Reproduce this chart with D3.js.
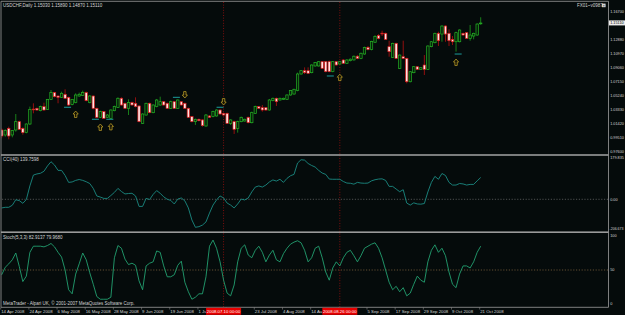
<!DOCTYPE html>
<html>
<head>
<meta charset="utf-8">
<script src="https://cdn.jsdelivr.net/npm/d3@7"></script>
<style>
  body { margin: 0; background: #050b0b; }
  svg { display: block; font-family: "Liberation Sans", Arial, sans-serif; }
</style>
</head>
<body>
<div id="chart"></div>
<script>
// USDCHF daily, 14 Apr 2008 - 21 Oct 2008
const open = [
  1.0059,0.9991,1.0081,0.9991,1.0059,1.0172,1.0081,1.0023,1.0140,1.0343,
  1.0353,1.0321,1.0376,1.0339,1.0475,1.0566,1.0520,1.0502,1.0543,1.0502,
  1.0407,1.0430,1.0520,1.0529,1.0566,1.0430,1.0520,1.0353,1.0231,1.0308,
  1.0231,1.0217,1.0321,1.0366,1.0489,1.0421,1.0353,1.0430,1.0421,1.0385,
  1.0149,1.0262,1.0421,1.0294,1.0376,1.0398,1.0443,1.0421,1.0353,1.0443,
  1.0353,1.0443,1.0421,1.0353,1.0240,1.0172,1.0204,1.0195,1.0113,1.0249,
  1.0240,1.0249,1.0330,1.0285,1.0285,1.0149,1.0172,1.0081,1.0172,1.0181,
  1.0231,1.0158,1.0285,1.0376,1.0362,1.0362,1.0330,1.0457,1.0489,1.0466,
  1.0475,1.0475,1.0534,1.0547,1.0593,1.0819,1.0864,1.0864,1.0837,1.0928,
  1.0928,1.0986,1.0986,1.0986,1.0851,1.0986,1.0955,1.1009,1.0964,1.1000,
  1.1010,1.1060,1.1030,1.1090,1.1180,1.1150,1.1250,1.1340,1.1373,1.1371,
  1.1190,1.1045,1.1235,1.0895,1.1054,1.1031,1.0714,1.0837,1.0918,1.0882,
  1.0941,1.0882,1.1190,1.1244,1.1371,1.1361,1.1470,1.1371,1.1289,1.1257,
  1.1257,1.1371,1.1380,1.1303,1.1334,1.1348,1.1503
]
const high = [
  1.0081,1.0068,1.0104,1.0059,1.0276,1.0185,1.0095,1.0149,1.0376,1.0421,
  1.0362,1.0389,1.0430,1.0480,1.0602,1.0575,1.0529,1.0579,1.0611,1.0511,
  1.0480,1.0557,1.0566,1.0593,1.0579,1.0534,1.0529,1.0362,1.0321,1.0312,
  1.0276,1.0339,1.0389,1.0502,1.0502,1.0430,1.0475,1.0443,1.0502,1.0394,
  1.0285,1.0430,1.0430,1.0407,1.0480,1.0511,1.0452,1.0430,1.0457,1.0452,
  1.0475,1.0452,1.0430,1.0362,1.0249,1.0213,1.0213,1.0204,1.0276,1.0262,
  1.0321,1.0339,1.0339,1.0294,1.0294,1.0204,1.0185,1.0185,1.0240,1.0213,
  1.0240,1.0308,1.0389,1.0385,1.0398,1.0371,1.0480,1.0498,1.0498,1.0498,
  1.0498,1.0543,1.0602,1.0620,1.0837,1.0873,1.0909,1.0909,1.0950,1.0982,
  1.0995,1.0995,1.0995,1.1000,1.0995,1.0995,1.0995,1.1020,1.1020,1.1030,
  1.1070,1.1075,1.1110,1.1190,1.1200,1.1270,1.1345,1.1360,1.1407,1.1380,
  1.1271,1.1244,1.1244,1.1085,1.1271,1.1040,1.0859,1.0927,1.0927,1.0913,
  1.1076,1.1208,1.1266,1.1380,1.1393,1.1479,1.1479,1.1425,1.1334,1.1393,
  1.1425,1.1380,1.1389,1.1484,1.1380,1.1506,1.1589
]
const low = [
  0.9946,0.9968,0.9932,0.9959,1.0036,1.0059,0.9995,1.0014,1.0127,1.0285,
  1.0321,1.0312,1.0321,1.0330,1.0466,1.0502,1.0421,1.0493,1.0480,1.0385,
  1.0394,1.0421,1.0511,1.0520,1.0448,1.0421,1.0339,1.0217,1.0222,1.0208,
  1.0222,1.0208,1.0312,1.0357,1.0389,1.0344,1.0262,1.0389,1.0366,1.0163,
  1.0140,1.0253,1.0285,1.0285,1.0366,1.0389,1.0389,1.0344,1.0344,1.0344,
  1.0344,1.0389,1.0344,1.0222,1.0163,1.0127,1.0176,1.0104,1.0104,1.0222,
  1.0231,1.0240,1.0267,1.0253,1.0140,1.0127,1.0005,1.0023,1.0163,1.0172,
  1.0149,1.0149,1.0276,1.0344,1.0308,1.0321,1.0321,1.0448,1.0385,1.0457,
  1.0466,1.0466,1.0525,1.0538,1.0584,1.0810,1.0819,1.0819,1.0828,1.0919,
  1.0919,1.0887,1.0842,1.0842,1.0842,1.0932,1.0946,1.0955,1.0955,1.0990,
  1.1000,1.1020,1.1020,1.1080,1.1140,1.1140,1.1240,1.1290,1.1334,1.1280,
  1.1054,1.1036,1.1022,1.0886,1.1022,1.0692,1.0705,1.0828,1.0873,1.0873,
  1.0805,1.0873,1.1181,1.1235,1.1199,1.1257,1.1257,1.1199,1.1212,1.1122,
  1.1248,1.1339,1.1294,1.1271,1.1289,1.1339,1.1487
]
const close = [
  0.9977,1.0050,0.9977,1.0050,1.0172,1.0068,1.0023,1.0140,1.0339,1.0335,
  1.0330,1.0376,1.0330,1.0475,1.0566,1.0511,1.0502,1.0557,1.0489,1.0398,
  1.0475,1.0534,1.0543,1.0566,1.0457,1.0520,1.0353,1.0231,1.0308,1.0217,
  1.0262,1.0330,1.0376,1.0489,1.0398,1.0353,1.0430,1.0398,1.0376,1.0172,
  1.0276,1.0421,1.0294,1.0398,1.0466,1.0443,1.0398,1.0353,1.0443,1.0353,
  1.0466,1.0398,1.0353,1.0231,1.0172,1.0204,1.0185,1.0118,1.0262,1.0231,
  1.0308,1.0330,1.0276,1.0262,1.0149,1.0195,1.0068,1.0172,1.0231,1.0204,
  1.0158,1.0294,1.0376,1.0353,1.0330,1.0330,1.0466,1.0489,1.0443,1.0489,
  1.0489,1.0534,1.0593,1.0611,1.0819,1.0864,1.0837,1.0828,1.0941,1.0973,
  1.0986,1.0896,1.0851,1.0851,1.0986,1.0941,1.0986,1.0964,1.1009,1.1020,
  1.1060,1.1030,1.1100,1.1180,1.1150,1.1260,1.1330,1.1300,1.1368,1.1289,
  1.1122,1.1235,1.1031,1.1076,1.1031,1.0714,1.0850,1.0918,1.0882,1.0904,
  1.0882,1.1199,1.1257,1.1371,1.1271,1.1470,1.1361,1.1271,1.1257,1.1380,
  1.1416,1.1348,1.1303,1.1348,1.1371,1.1497,1.1511
]

// CCI(40) and Stoch main line, one value per bar
const cci = [
  -39,-36,-36,-27,-2,-6,-18,-1,60,109,
  114,117,126,150,169,154,130,130,107,76,
  78,85,89,85,79,71,49,15,10,4,
  4,17,31,49,35,24,26,27,15,-32,
  -32,4,-1,22,39,27,11,0,-5,-21,
  1,6,-7,-39,-93,-126,-123,-116,-102,-62,
  -26,-3,15,6,-17,-26,-39,-21,1,-3,
  6,33,55,60,55,64,78,87,82,90,
  76,94,106,112,163,178,176,161,152,145,
  130,118,112,91,90,90,90,80,73,72,
  68,76,73,72,73,83,88,91,92,85,
  58,58,46,34,43,-17,-26,-16,-21,-22,
  -19,33,76,103,90,116,107,76,64,64,
  71,69,64,67,67,83,98
]
const stoch = [
  43,54,59,65,75,55,33,41,76,85,
  85,85,84,86,89,84,76,69,50,21,
  15,44,59,75,65,46,29,11,7,7,
  7,10,68,86,82,66,58,60,57,34,
  21,56,60,62,78,76,56,40,40,43,
  57,63,32,18,7,10,15,15,40,85,
  94,82,62,35,16,12,28,62,82,87,
  72,68,79,85,76,62,72,79,65,62,
  74,82,88,91,93,90,79,62,68,82,
  85,68,47,35,53,62,56,68,76,79,
  71,62,71,82,85,88,90,82,68,50,
  32,21,26,18,24,12,16,29,41,35,
  32,62,79,87,76,82,71,47,29,24,
  44,56,56,53,62,76,85
]

// fractal arrows and small level marks
const arrowBars = [21, 28, 31, 52, 63, 96, 129]
const arrowPrices = [1.0316, 1.0140, 1.0147, 1.0493, 1.0398, 1.0816, 1.1022]
const arrowUp = [true, true, true, false, false, true, true]
const markBars = [18.7, 26.6, 30.7, 49.6, 62, 93.3, 129.6]
const markPrices = [1.0367, 1.0204, 1.0204, 1.0502, 1.0367, 1.0792, 1.1090]

const priceTicks = [1.167, 1.1479, 1.1288, 1.1097, 1.0906, 1.0715, 1.0524, 1.0333, 1.0142, 0.9951, 0.9760]
const lastPrice = 1.1511
const cciLevel = 0
const cciMax = 179.835, cciMin = -206.673
const stochTicks = [100, 50, 0]
const vLineDates = ['2008.07.10', '2008.08.26']

const width = 625
const height = 315
const plotRight = 608.5

// trading days (Mon-Fri) from 14 Apr 2008
const dates = []
for (let d = new Date(2008, 3, 14); dates.length < close.length; d = d3.timeDay.offset(d, 1)) {
  if (d.getDay() !== 0 && d.getDay() !== 6) dates.push(d)
}
const fmtLabel = d3.timeFormat('%-d %b %Y')
const fmtKey = d3.timeFormat('%Y.%m.%d')

const svg = d3.select('#chart')
  .append('svg')
  .attr('width', width)
  .attr('height', height)

svg.append('rect').attr('width', width).attr('height', height).attr('fill', '#050b0b')

const x = d3.scaleLinear().domain([0, 136]).range([1.7, 480.7])
const yP = d3.scaleLinear().domain([0.976, 1.167]).range([152, 11.3])
const yC = d3.scaleLinear().domain([-130, cciMax]).range([228.2, 159.3])
const yS = d3.scaleLinear().domain([0, 100]).range([304, 236])

const clipMain = svg.append('clipPath').attr('id', 'cm')
clipMain.append('rect').attr('x', 1.5).attr('y', 2).attr('width', plotRight - 1.5).attr('height', 305)

// red vertical dotted lines
const vIdx = vLineDates.map(s => dates.findIndex(d => fmtKey(d) === s))
svg.append('g').selectAll('line')
  .data(vIdx)
  .enter().append('line')
  .attr('x1', d => x(d)).attr('x2', d => x(d))
  .attr('y1', 2).attr('y2', 307)
  .attr('stroke', '#a01010')
  .attr('stroke-width', 0.8)
  .attr('stroke-dasharray', '1,1.6')

// candles
const bars = d3.range(close.length)
const cg = svg.append('g').attr('clip-path', 'url(#cm)')
cg.selectAll('line.wick')
  .data(bars)
  .enter().append('line')
  .attr('class', 'wick')
  .attr('x1', i => x(i)).attr('x2', i => x(i))
  .attr('y1', i => yP(high[i])).attr('y2', i => yP(low[i]))
  .attr('stroke', i => close[i] >= open[i] ? '#1e9e1e' : '#b81010')
  .attr('stroke-width', 0.8)

cg.selectAll('rect.body')
  .data(bars)
  .enter().append('rect')
  .attr('class', 'body')
  .attr('x', i => x(i) - 1.2)
  .attr('width', 2.4)
  .attr('y', i => yP(Math.max(open[i], close[i])))
  .attr('height', i => Math.max(Math.abs(yP(open[i]) - yP(close[i])), 0.8))
  .attr('fill', i => close[i] >= open[i] ? '#06200a' : '#ffe2e2')
  .attr('stroke', i => close[i] >= open[i] ? '#24b024' : '#d41818')
  .attr('stroke-width', 0.7)

// teal marks
svg.append('g').selectAll('line')
  .data(markBars)
  .enter().append('line')
  .attr('x1', (d) => x(d) - 3.5).attr('x2', (d) => x(d) + 3.5)
  .attr('y1', (d, i) => yP(markPrices[i])).attr('y2', (d, i) => yP(markPrices[i]))
  .attr('stroke', '#1a9090')
  .attr('stroke-width', 1.1)

// arrows
const upArrow = 'M0,0 L2.6,3 L1.2,3 L1.2,6.4 L-1.2,6.4 L-1.2,3 L-2.6,3 Z'
svg.append('g').selectAll('path')
  .data(arrowBars)
  .enter().append('path')
  .attr('d', upArrow)
  .attr('transform', (d, i) => `translate(${x(d)},${yP(arrowPrices[i])})` + (arrowUp[i] ? '' : ' scale(1,-1)'))
  .attr('fill', '#151305')
  .attr('stroke', '#b89a28')
  .attr('stroke-width', 0.8)

// CCI
svg.append('line')
  .attr('x1', 2).attr('x2', plotRight)
  .attr('y1', yC(cciLevel)).attr('y2', yC(cciLevel))
  .attr('stroke', '#6e6e6e').attr('stroke-width', 0.7).attr('stroke-dasharray', '1.2,1.6')

svg.append('path')
  .datum(cci)
  .attr('fill', 'none')
  .attr('stroke', '#1b8a82')
  .attr('stroke-width', 0.9)
  .attr('d', d3.line().x((d, i) => x(i)).y(d => yC(d)))

// Stochastic
svg.append('line')
  .attr('x1', 2).attr('x2', plotRight)
  .attr('y1', yS(50)).attr('y2', yS(50))
  .attr('stroke', '#8a6a44').attr('stroke-width', 0.7).attr('stroke-dasharray', '1.2,1.6')

svg.append('path')
  .datum(stoch)
  .attr('fill', 'none')
  .attr('stroke', '#22a070')
  .attr('stroke-width', 0.9)
  .attr('d', d3.line().x((d, i) => x(i)).y(d => yS(d)))

// frame and separators
const frame = svg.append('g').attr('fill', 'none').attr('stroke', '#8c8c8c')
frame.append('line').attr('x1', 1).attr('x2', 1).attr('y1', 1.3).attr('y2', 307.3).attr('stroke-width', 0.9)
frame.append('line').attr('x1', 1).attr('x2', plotRight).attr('y1', 1.3).attr('y2', 1.3).attr('stroke-width', 0.9)
frame.append('line').attr('x1', plotRight).attr('x2', plotRight).attr('y1', 1.3).attr('y2', 307.3).attr('stroke-width', 0.9)
frame.append('line').attr('x1', 1).attr('x2', plotRight).attr('y1', 307.3).attr('y2', 307.3).attr('stroke-width', 0.9)
frame.append('rect').attr('x', 1).attr('y', 154.2).attr('width', plotRight - 1).attr('height', 1.6).attr('fill', '#9a9a9a').attr('stroke', 'none')
frame.append('rect').attr('x', 1).attr('y', 231.4).attr('width', plotRight - 1).attr('height', 1.6).attr('fill', '#9a9a9a').attr('stroke', 'none')

// text
const txt = svg.append('g').attr('fill', '#d4d4d4').attr('font-size', '4.5px')
txt.append('text').attr('x', 3).attr('y', 7).text('USDCHF,Daily  1.15030 1.15890 1.14870 1.15110')
txt.append('text').attr('x', 577).attr('y', 7).text('FX01~v0987')
svg.append('rect').attr('x', 602).attr('y', 3.6).attr('width', 3.6).attr('height', 3.6).attr('fill', '#d4d4d4')
svg.append('text').attr('x', 603.8).attr('y', 6.7).attr('text-anchor', 'middle').attr('font-size', '3.6px').attr('fill', '#050b0b').text('×')
txt.append('text').attr('x', 3).attr('y', 160.5).text('CCI(40) 139.7598')
txt.append('text').attr('x', 3).attr('y', 239).text('Stoch(5,3,3) 82.9137 79.9680')
txt.append('text').attr('x', 3).attr('y', 304.5).text('MetaTrader - Alpari UK, © 2001-2007 MetaQuotes Software Corp.')

// right scales (small type so the labels fit before the window edge)
const rt = svg.append('g').attr('fill', '#d4d4d4').attr('font-size', '3.8px')
rt.selectAll('text.pt')
  .data(priceTicks.filter(d => Math.abs(yP(d) - yP(lastPrice)) > 5))
  .enter().append('text')
  .attr('class', 'pt')
  .attr('x', 610.2).attr('y', d => yP(d) + 1.4)
  .text(d => d.toFixed(5))
svg.append('rect').attr('x', 609).attr('y', yP(lastPrice) - 2.6).attr('width', 16).attr('height', 5).attr('fill', '#ececec')
svg.append('text').attr('x', 610.2).attr('y', yP(lastPrice) + 1.4).attr('font-size', '3.8px').attr('fill', '#000').text(lastPrice.toFixed(5))

rt.append('text').attr('x', 610.2).attr('y', 159).text(cciMax.toFixed(3))
rt.append('text').attr('x', 610.2).attr('y', yC(cciLevel) + 1.4).text(cciLevel.toFixed(2))
rt.append('text').attr('x', 609.6).attr('y', 229.6).attr('font-size', '3.5px').text(cciMin.toFixed(3))
rt.selectAll('text.st')
  .data(stochTicks)
  .enter().append('text')
  .attr('class', 'st')
  .attr('x', 610.2).attr('y', d => yS(d) + 1.2)
  .text(d => d)

// date axis (labels under the red time markers are hidden, as in the terminal)
const labelBars = bars.filter(i => i % 8 === 0)
const shownBars = labelBars.filter(i => vIdx.every(v => Math.abs(v - i) > 3))
svg.append('g').selectAll('line')
  .data(labelBars)
  .enter().append('line')
  .attr('x1', i => x(i) - 1).attr('x2', i => x(i) - 1)
  .attr('y1', 307.3).attr('y2', 309.5)
  .attr('stroke', '#8c8c8c').attr('stroke-width', 0.6)

// clip date labels where the red markers sit
const dclip = svg.append('clipPath').attr('id', 'dc')
const edges = [0].concat(...vIdx.map(i => [x(i) - 17.5, x(i) + 17.5]), [width])
for (let k = 0; k < edges.length; k += 2) {
  dclip.append('rect').attr('x', edges[k]).attr('y', 300).attr('width', edges[k + 1] - edges[k]).attr('height', 15)
}
svg.append('g').attr('clip-path', 'url(#dc)')
  .attr('fill', '#d4d4d4')
  .selectAll('text')
  .data(shownBars)
  .enter().append('text')
  .attr('x', i => x(i) - 0.5).attr('y', 313)
  .attr('font-size', '4.3px')
  .text(i => fmtLabel(dates[i]))

const vl = svg.append('g').selectAll('g')
  .data(vIdx)
  .enter().append('g')
vl.append('rect')
  .attr('x', i => x(i) - 17.5).attr('y', 307.8)
  .attr('width', 35).attr('height', 7)
  .attr('fill', '#e80000')
vl.append('text')
  .attr('x', i => x(i)).attr('y', 313)
  .attr('text-anchor', 'middle')
  .attr('font-size', '4.3px')
  .attr('fill', '#ffffff')
  .text(i => fmtKey(dates[i]) + ' 00:00')
</script>
</body>
</html>
